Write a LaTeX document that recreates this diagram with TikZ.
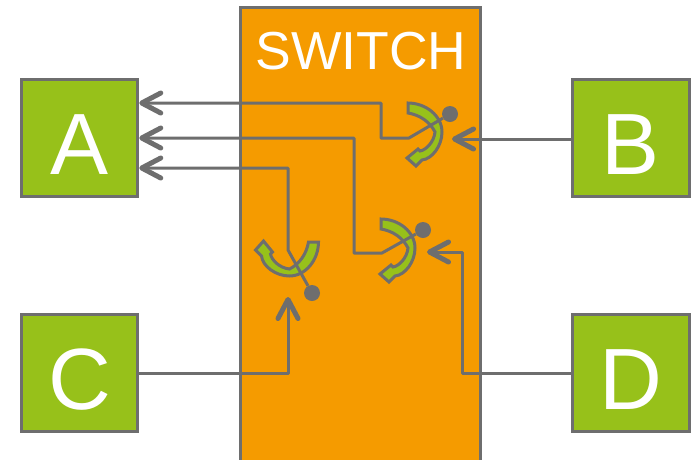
\documentclass[tikz,border=0pt]{standalone}
\usepackage{fontspec}
\setmainfont{Liberation Sans}
\usepackage{tikz}
\usetikzlibrary{arrows.meta, calc}
\definecolor{wiregray}{HTML}{6E6E6E}
\definecolor{leafgreen}{HTML}{97C11A}
\definecolor{switchorange}{HTML}{F59B00}

\begin{document}
\begin{tikzpicture}[
    x=1pt, y=-1pt,
    port/.style={draw=wiregray, line width=3pt, fill=leafgreen, text=white, minimum size=116.5pt, inner sep=0pt, text height=72pt, text depth=0pt, font=\fontsize{87}{87}\selectfont},
    wire/.style={draw=wiregray, line width=3pt, line join=round},
    arrowwire/.style={wire, arrows={-Straight Barb[line width=5pt 0 1, length=19pt, width=20pt, round]}},
    ball/.style={circle, fill=wiregray, minimum size=16pt, inner sep=0pt},
    crescent/.pic={
        \draw[draw=wiregray, fill=leafgreen, line width=3pt, line join=miter]
            (-42,-11) .. controls (-24,-11) and (-8,2) .. (-8,18)
            .. controls (-8,32) and (-18,45) .. (-28,46)
            -- (-34,52) -- (-43,44) -- (-32,35) -- (-30,37)
            .. controls (-24,36) and (-16,28) .. (-15,18)
            .. controls (-20,8) and (-30,1) .. (-42,-1) -- cycle;
    }
]
    \useasboundingbox (0,0) rectangle (691,459);

    % Switch body runs off the bottom edge:
    \node[draw=wiregray, line width=3pt, fill=switchorange, minimum width=240pt, minimum height=480pt, inner sep=0pt] (switchbox) at (360,247) {};
    \node[text=white, font=\fontsize{53.5}{53.5}\selectfont] (switchlabel) at (361,51) {SWITCH};

    % Ports:
    \node[port] (A) at (79.5,138) {A};
    \node[port] (B) at (631,138) {B};
    \node[port] (C) at (79.5,373) {C};
    \node[port] (D) at (631,373) {D};

    % Rotating arcs, balls and pivots:
    \pic at (450,114) {crescent};
    \pic at (423,230) {crescent};
    \pic[rotate=-90] at (307.5,284) {crescent};
    \node[ball] (ballone) at (450,114) {};
    \node[ball] (balltwo) at (423,230) {};
    \node[ball] (ballthree) at (312,293) {};
    \coordinate (pivotone) at (409,138);
    \coordinate (pivottwo) at (382,253);
    \coordinate (pivotthree) at (288,250);

    % Wires:
    \draw[arrowwire] (ballone) -- (pivotone) -- (381,138) -- (381,103) -- (A.east |- 0,103);
    \draw[arrowwire] (balltwo) -- (pivottwo) -- (354,253) -- (354,138) -- (A.east);
    \draw[arrowwire] (ballthree) -- (pivotthree) -- (288,168) -- (A.east |- 0,168);
    \draw[arrowwire] (B.west |- 0,139) -- (452,139);
    \draw[arrowwire] (D.west) -- (462,373) -- (462,252) -- (427,252);
    \draw[arrowwire] (C.east) -- (288,373) -- (288,297);
\end{tikzpicture}
\end{document}
